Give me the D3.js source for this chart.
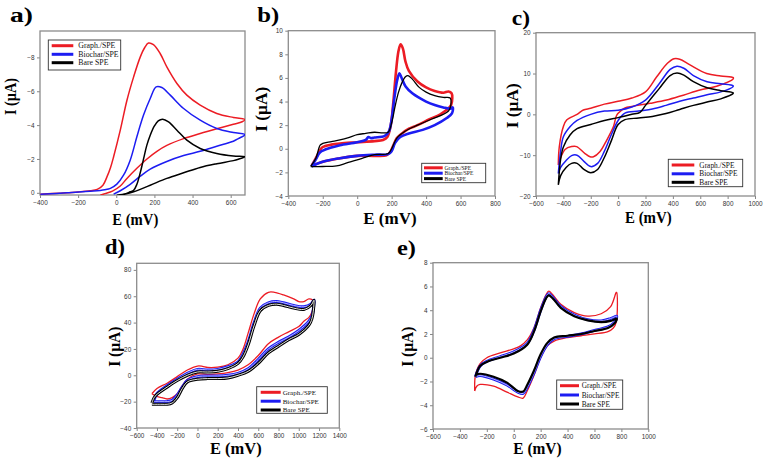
<!DOCTYPE html>
<html><head><meta charset="utf-8">
<script src="https://cdn.jsdelivr.net/npm/d3@7"></script>
<style>body{margin:0;background:#fff}svg{display:block}</style>
</head><body><svg id="chart" width="766" height="462"></svg>
<script>
// ---------- DATA ----------
const seriesNames = ["Graph./SPE", "Biochar/SPE", "Bare SPE"];
const seriesColors = ["#ec1c24", "#1c1cf2", "#000000"];

// panel a
const aXTicks = [-400, -200, 0, 200, 400, 600];
const aYTicks = [0, -2, -4, -6, -8];
const aGraph = [[-398,0.08],[-300,0.02],[-200,-0.05],[-136,-0.12],[-100,-0.2],[-70,-0.45],[-49,-0.94],[-30,-1.5],[-14,-2.13],[21,-3.7],[56,-5.47],[91,-6.85],[126,-8.03],[150,-8.6],[169,-8.85],[195,-8.75],[230,-8.23],[265,-7.44],[318,-6.46],[370,-5.77],[440,-5.18],[527,-4.69],[614,-4.45],[675,-4.33],
  [660,-4.2],[614,-4.05],[527,-3.78],[440,-3.5],[353,-3.2],[265,-2.8],[213,-2.45],[161,-2.0],[108,-1.45],[56,-0.85],[21,-0.4],[-20,-0.1],[-60,0.05],[-84,0.14]];
const aBiochar = [[-398,0.08],[-258,0],[-119,-0.1],[-60,-0.18],[-31,-0.26],[3,-0.51],[38,-1.04],[73,-1.93],[108,-3.31],[143,-4.59],[178,-5.57],[209,-6.26],[239,-6.22],[283,-5.77],[353,-4.98],[440,-4.29],[527,-3.8],[614,-3.56],[675,-3.44],
  [640,-3.2],[614,-3.05],[527,-2.75],[440,-2.45],[353,-2.2],[265,-1.85],[178,-1.4],[126,-0.98],[73,-0.5],[21,-0.12],[-14,0.08]];
const aBare = [[3,0.14],[50,0.05],[73,-0.06],[91,-0.15],[108,-0.5],[126,-1.2],[143,-2.0],[160,-2.8],[178,-3.4],[200,-3.95],[220,-4.25],[243,-4.35],[274,-4.19],[318,-3.7],[370,-3.11],[440,-2.62],[527,-2.32],[614,-2.17],[675,-2.13],
  [640,-1.98],[614,-1.9],[527,-1.72],[440,-1.5],[353,-1.18],[265,-0.85],[178,-0.45],[91,-0.06],[21,0.14]];

// panel b
const bXTicks = [-400, -200, 0, 200, 400, 600, 800];
const bYTicks = [-4, -2, 0, 2, 4, 6, 8, 10];
const bGraph = [[-265,-1.45],[-240,-0.8],[-215,-0.1],[-200,0.15],[-150,0.35],[-100,0.45],[0,0.55],[100,0.65],[150,0.75],[175,1.0],[195,2.0],[210,4.0],[225,6.5],[240,8.3],[252,8.85],[265,8.5],[280,7.4],[300,6.6],[350,5.7],[400,5.2],[450,4.9],[500,4.75],[530,4.85],[548,4.7],[552,4.3],
  [545,3.7],[520,3.3],[480,2.9],[420,2.5],[350,2.0],[300,1.7],[260,1.3],[230,0.9],[210,0.3],[190,-0.3],[170,-0.55],[100,-0.6],[0,-0.6],[-100,-0.8],[-200,-1.1],[-265,-1.45]];
const bBiochar = [[-265,-1.5],[-240,-0.9],[-215,-0.3],[-150,0.1],[-100,0.3],[0,0.55],[50,0.75],[65,1.0],[80,0.9],[100,0.95],[160,1.1],[185,1.5],[200,2.5],[215,4.2],[232,5.8],[245,6.4],[258,6.0],[280,5.3],[320,4.7],[400,4.0],[450,3.7],[500,3.5],[540,3.4],[555,3.5],
  [550,3.0],[520,2.6],[450,2.0],[380,1.6],[300,1.3],[250,1.0],[220,0.5],[200,-0.2],[180,-0.45],[100,-0.5],[0,-0.6],[-100,-0.8],[-200,-1.1],[-265,-1.5]];
const bBare = [[-270,-1.5],[-240,-0.8],[-215,0.3],[-200,0.45],[-150,0.6],[-100,0.75],[-50,0.95],[0,1.2],[50,1.3],[100,1.4],[150,1.35],[180,1.4],[200,2.2],[220,3.6],[240,4.8],[260,5.6],[280,6.1],[295,6.2],[320,5.9],[360,5.2],[400,4.8],[450,4.5],[500,4.35],[540,4.3],
  [545,3.9],[530,3.2],[430,2.5],[350,2.0],[280,1.5],[230,0.9],[200,0.0],[180,-0.4],[100,-0.5],[50,-0.7],[0,-0.95],[-60,-1.2],[-120,-1.45],[-200,-1.5],[-270,-1.5]];

// panel c
const cXTicks = [-600, -400, -200, 0, 200, 400, 600, 800, 1000];
const cYTicks = [-20, -10, 0, 10, 20];
const cGraph = [[-437,-12.4],[-430,-8],[-400,-3],[-376,-1.4],[-300,0],[-254,1.06],[-200,1.5],[-100,2.5],[0,3.2],[100,4.0],[200,5.5],[282,9.2],[360,12.5],[408,13.6],[450,13.5],[525,12.1],[647,10.0],[750,9.4],[841,9.0],
  [841,8.7],[720,6.9],[598,5.96],[476,4.7],[354,3.5],[232,2.7],[110,2.0],[50,1.6],[27,1.06],[-10,-0.2],[-34,-3.0],[-83,-6.3],[-132,-9.1],[-180,-10.4],[-205,-10.4],[-242,-9.6],[-303,-7.9],[-340,-7.9],[-388,-8.6],[-417,-10.4],[-437,-12.4]];
const cBiochar = [[-437,-14.5],[-420,-9],[-400,-5.5],[-350,-3],[-300,-1.5],[-200,0],[-100,0.8],[0,1.0],[100,1.8],[200,3.5],[300,7.5],[380,11],[430,11.8],[480,11.3],[550,9.5],[650,8.0],[750,7.5],[840,7.0],
  [840,6.8],[750,5.5],[650,4.8],[550,4.0],[450,3.2],[350,2.2],[250,1.3],[150,0.8],[50,0.3],[0,-1.5],[-50,-5],[-100,-9],[-150,-12],[-200,-12.8],[-250,-11.5],[-300,-10.0],[-340,-10.1],[-380,-11.3],[-420,-13],[-437,-14.5]];
const cBare = [[-437,-17.3],[-420,-11],[-400,-8],[-350,-5],[-300,-3.5],[-200,-2.5],[-100,-1.5],[0,-0.8],[100,0],[160,0.5],[200,2.2],[300,6.3],[380,9.5],[430,10.1],[480,9.6],[550,8.0],[650,6.5],[750,5.8],[840,5.3],
  [840,5.1],[750,3.8],[650,3.0],[550,2.2],[450,1.2],[350,0.2],[250,-0.5],[150,-0.9],[50,-1.3],[0,-2.5],[-50,-6.5],[-100,-10.5],[-150,-13.5],[-200,-14.3],[-250,-13.5],[-300,-12.0],[-340,-12.0],[-380,-13.0],[-420,-15],[-437,-17.3]];

// panel d
const dXTicks = [-600, -400, -200, 0, 200, 400, 600, 800, 1000, 1200, 1400];
const dYTicks = [-40, -20, 0, 20, 40, 60, 80];
const dGraph = [[-450,-14],[-400,-10],[-300,-6],[-200,-1],[-100,4],[0,7],[50,6.8],[100,6],[200,6.2],[300,8],[400,13],[450,20],[500,32],[560,47],[620,58],[700,63],[760,63],[850,61],[950,58],[1000,56],[1050,56],[1100,58],[1140,57],
  [1150,56],[1130,48],[1100,44],[1050,41],[1000,37],[900,33],[800,29],[700,24],[600,15],[500,8],[400,4],[300,2],[200,1],[100,0.5],[0,1],[-100,-3],[-150,-8],[-200,-14],[-250,-17],[-300,-18],[-350,-17],[-400,-16],[-450,-14]];
const dBiochar = [[-430,-19],[-400,-14],[-300,-8],[-200,-3],[-100,1.5],[0,4.5],[100,4],[200,4.5],[300,6.5],[400,10],[450,16],[500,25],[560,40],[620,51],[700,55],[780,56],[850,55],[950,53],[1050,52],[1120,54],[1150,57],
  [1150,55],[1130,45],[1100,41],[1000,34],[900,29],[800,25],[700,20],[600,12],[500,5],[400,1.5],[300,0],[200,-0.5],[100,-0.5],[0,-1],[-100,-4],[-150,-9],[-200,-15],[-250,-19],[-300,-20],[-350,-20],[-430,-20]];
const dBare = [[-450,-21],[-420,-16],[-300,-9],[-200,-4],[-100,0],[0,2.5],[100,2.5],[200,3],[300,5],[400,9],[450,14],[500,23],[560,38],[620,49],[700,53],[780,54],[850,53],[950,51],[1050,50],[1120,53],[1150,57],
  [1150,54],[1130,43],[1100,38],[1000,31],[900,27],[800,22],[700,17],[600,9],[500,3],[400,0],[300,-2],[200,-2.5],[100,-2.5],[0,-3],[-100,-5],[-150,-10],[-200,-17],[-250,-21],[-300,-22],[-350,-22],[-450,-22]];

// panel e
const eXTicks = [-600, -400, -200, 0, 200, 400, 600, 800, 1000];
const eYTicks = [-6, -4, -2, 0, 2, 4, 6, 8];
const eGraph = [[-290,-2.8],[-285,-1.5],[-250,-0.5],[-200,0],[-100,0.4],[0,0.75],[50,1.0],[100,1.5],[150,2.5],[200,4.2],[240,5.3],[260,5.6],[290,5.3],[350,4.5],[450,3.8],[550,3.5],[650,3.7],[720,4.3],[762,5.5],
  [765,5.5],[762,3.0],[740,2.5],[700,2.2],[600,2.0],[500,1.85],[400,1.7],[300,1.4],[250,1.0],[200,0],[150,-1.5],[100,-2.8],[70,-3.4],[30,-3.3],[-50,-2.9],[-150,-2.4],[-250,-2.25],[-275,-2.4],[-290,-2.8]];
const eBiochar = [[-285,-1.6],[-250,-0.7],[-200,-0.3],[-100,0.1],[0,0.5],[100,1.2],[150,2.3],[200,4.0],[240,5.1],[260,5.4],[290,5.1],[350,4.3],[450,3.6],[550,3.2],[650,3.1],[720,3.3],[765,3.5],
  [765,3.4],[750,3.0],[700,2.6],[600,2.3],[500,2.0],[400,1.8],[300,1.6],[250,1.1],[200,0.1],[150,-1.3],[100,-2.5],[70,-3.0],[30,-2.9],[-50,-2.3],[-150,-1.8],[-250,-1.5],[-285,-1.6]];
const eBare = [[-285,-1.6],[-250,-0.7],[-200,-0.35],[-100,0.0],[0,0.35],[100,1.1],[150,2.2],[200,3.9],[240,5.0],[260,5.25],[290,5.0],[350,4.2],[450,3.5],[550,3.15],[650,3.0],[720,3.1],[765,3.3],
  [765,3.2],[750,2.9],[700,2.5],[600,2.25],[500,2.0],[400,1.85],[300,1.7],[250,1.25],[200,0.3],[150,-1.1],[100,-2.3],[70,-2.85],[30,-2.8],[-50,-2.1],[-150,-1.6],[-250,-1.35],[-285,-1.45]];

// ---------- LAYOUT ----------
const panels = [
  {label:"a)", series:[aGraph,aBiochar,aBare], xDom:[-400,675], yDom:[0.13,-9.56], xTicks:aXTicks, yTicks:aYTicks,
   box:[40,31,245,195], lab:[10,21.5,23], xt:[112.3,225,46], yt:[16,115,37], widths:[1.5,1.5,1.5],
   leg:{x:48.3,y:40,w:72.4,h:30,rows:[45.7,54.3,62.7],l1:51.7,l2:73.3,tx:78.3,fs:7.8}},
  {label:"b)", series:[bGraph,bBiochar,bBare], xDom:[-400,800], yDom:[-4,10], xTicks:bXTicks, yTicks:bYTicks,
   box:[288.3,30.7,495,196], lab:[257.3,22,22], xt:[363.3,224,53.3], yt:[267,131.7,45], widths:[2.6,2.6,1.3],
   leg:{x:421.7,y:163.3,w:64,h:19.4,rows:[167.8,173.2,178.6],l1:424,l2:442.7,tx:444.5,fs:5.6}},
  {label:"c)", series:[cGraph,cBiochar,cBare], xDom:[-600,1000], yDom:[-20,20], xTicks:cXTicks, yTicks:cYTicks,
   box:[536,32.7,755,196], lab:[511.7,25,18.3], xt:[625,223.3,46.7], yt:[518,128.3,45], widths:[1.5,1.5,1.5],
   leg:{x:668.3,y:159.3,w:74.4,h:27.4,rows:[165,173.8,182.3],l1:671.7,l2:694.3,tx:699.3,fs:7.4}},
  {label:"d)", series:[dGraph,dBiochar,dBare], xDom:[-600,1400], yDom:[-40,85], xTicks:dXTicks, yTicks:dYTicks,
   box:[136.7,263.3,339.3,428], lab:[105,254,20], xt:[210,454,51.7], yt:[120,366.7,40], widths:[1.3,3,3], dbl:[false,true,true],
   leg:{x:256.7,y:386.7,w:70.6,h:26.6,rows:[392.3,401.2,410],l1:260.7,l2:280.7,tx:282.7,fs:7}},
  {label:"e)", series:[eGraph,eBiochar,eBare], xDom:[-600,1000], yDom:[-6,8], xTicks:eXTicks, yTicks:eYTicks,
   box:[433,262.7,648.3,429], lab:[397,255,19], xt:[513.3,454,48.3], yt:[413,366.7,40], widths:[1.3,2.8,2.2], dbl:[false,true,false],
   leg:{x:556.7,y:380,w:66,h:29.3,rows:[385.7,395,404],l1:560,l2:579,tx:581.7,fs:7.3}}
];

const svg = d3.select("#chart");
const serif = "'Liberation Serif','Times New Roman',serif";
const sans = "'Liberation Sans',Arial,sans-serif";

panels.forEach((p, pi) => {
  const [x0, y0, x1, y1] = p.box;
  const x = d3.scaleLinear().domain(p.xDom).range([x0, x1]);
  const y = d3.scaleLinear().domain(p.yDom).range([y1, y0]);
  const g = svg.append("g");

  const clipId = "clip" + pi;
  g.append("clipPath").attr("id", clipId).append("rect")
    .attr("x", x0).attr("y", y0).attr("width", x1 - x0).attr("height", y1 - y0);

  // axes
  const xa = g.append("g").attr("transform", `translate(0,${y1})`)
    .call(d3.axisBottom(x).tickValues(p.xTicks).tickSize(3).tickSizeOuter(0).tickFormat(d3.format("d")));
  const ya = g.append("g").attr("transform", `translate(${x0},0)`)
    .call(d3.axisLeft(y).tickValues(p.yTicks).tickSize(3).tickSizeOuter(0).tickFormat(d3.format("d")));
  [xa, ya].forEach(a => {
    a.select(".domain").remove();
    a.selectAll(".tick line").attr("stroke", "#666").attr("stroke-width", 0.8);
    a.selectAll(".tick text").attr("font-family", sans).attr("font-size", 6.4).attr("fill", "#333");
  });
  xa.selectAll(".tick text").attr("dy", null).attr("y", 10);
  ya.selectAll(".tick text").attr("x", -5.5).attr("dy", "0.32em");

  // frame
  g.append("rect").attr("x", x0).attr("y", y0).attr("width", x1 - x0).attr("height", y1 - y0)
    .attr("fill", "none").attr("stroke", "#8c8c8c").attr("stroke-width", 1.3);

  // curves
  const line = d3.line().x(d => x(d[0])).y(d => y(d[1])).curve(d3.curveCatmullRom.alpha(0.5));
  const cg = g.append("g").attr("clip-path", `url(#${clipId})`);
  p.series.forEach((s, si) => {
    cg.append("path").datum(s).attr("d", line).attr("fill", "none")
      .attr("stroke", seriesColors[si]).attr("stroke-width", p.widths[si])
      .attr("stroke-linejoin", "round");
    if (p.dbl && p.dbl[si]) {
      cg.append("path").datum(s).attr("d", line).attr("fill", "none")
        .attr("stroke", si === 1 ? "#c8c8ff" : "#ffffff").attr("stroke-width", 0.9);
    }
  });

  // legend
  const L = p.leg;
  g.append("rect").attr("x", L.x).attr("y", L.y).attr("width", L.w).attr("height", L.h)
    .attr("fill", "#fff").attr("stroke", "#333").attr("stroke-width", 0.9);
  seriesNames.forEach((n, si) => {
    g.append("line").attr("x1", L.l1).attr("x2", L.l2).attr("y1", L.rows[si]).attr("y2", L.rows[si])
      .attr("stroke", seriesColors[si]).attr("stroke-width", 3);
    g.append("text").attr("x", L.tx).attr("y", L.rows[si]).attr("dy", "0.35em")
      .attr("font-family", serif).attr("font-size", L.fs).attr("fill", "#111").text(n);
  });

  // panel label
  g.append("text").attr("x", p.lab[0]).attr("y", p.lab[1]).attr("font-family", serif)
    .attr("font-weight", "bold").attr("font-size", 20).attr("textLength", p.lab[2])
    .attr("lengthAdjust", "spacingAndGlyphs").text(p.label);

  // axis titles
  g.append("text").attr("x", p.xt[0]).attr("y", p.xt[1]).attr("font-family", serif)
    .attr("font-weight", "bold").attr("font-size", 16.5).attr("textLength", p.xt[2])
    .attr("lengthAdjust", "spacingAndGlyphs").text("E (mV)");
  g.append("text").attr("transform", `translate(${p.yt[0]},${p.yt[1]}) rotate(-90)`)
    .attr("font-family", serif).attr("font-weight", "bold").attr("font-size", 16.5)
    .attr("textLength", p.yt[2]).attr("lengthAdjust", "spacingAndGlyphs").text("I (µA)");
});
</script>
</body></html>
